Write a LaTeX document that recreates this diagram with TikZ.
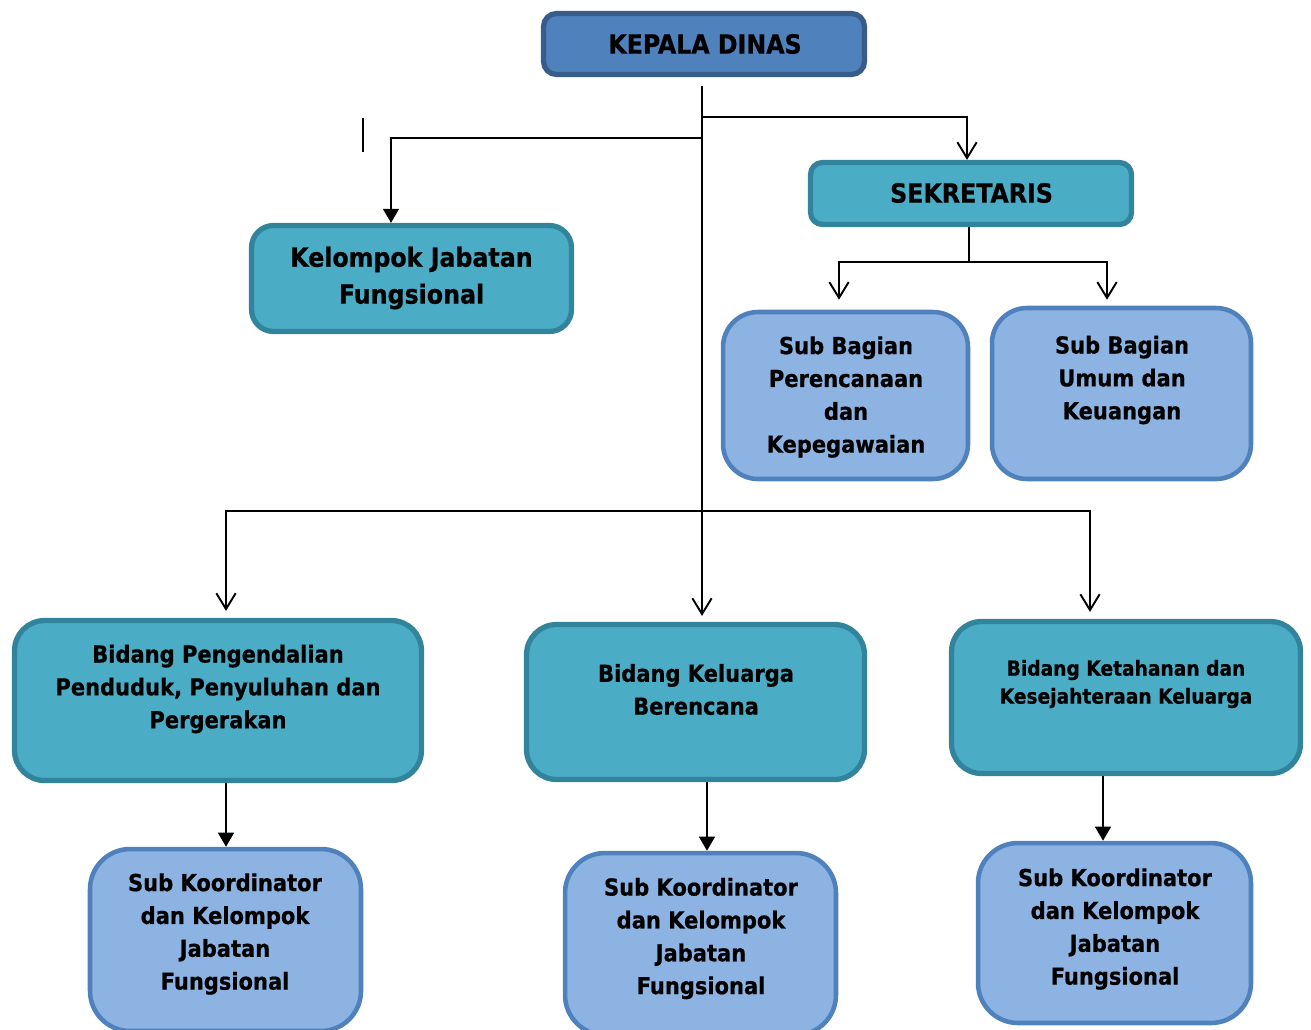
\documentclass[tikz,border=0pt]{standalone}
\usepackage{fontspec}
\newfontfamily\orgfont{DejaVu Sans Condensed}[BoldFeatures={FakeBold=0.7}]
\usetikzlibrary{arrows.meta,positioning}
\definecolor{kepalafill}{HTML}{4F81BD}
\definecolor{kepalaline}{HTML}{385D8A}
\definecolor{tealfill}{HTML}{4BACC6}
\definecolor{tealline}{HTML}{31849B}
\definecolor{bluefill}{HTML}{8DB3E2}
\definecolor{blueline}{HTML}{4F81BD}
\tikzset{
  kepalabox/.style={draw=kepalaline, fill=kepalafill, line width=3pt, rounded corners=0.26cm, inner sep=0pt},
  tealbox/.style={draw=tealline, fill=tealfill, line width=3pt, rounded corners=0.5cm, inner sep=0pt},
  bluebox/.style={draw=blueline, fill=bluefill, line width=2.6pt, rounded corners=0.7cm, inner sep=0pt},
  txtbig/.style={font=\orgfont\bfseries\fontsize{15}{21}\selectfont, align=center, inner sep=0pt},
  txt/.style={font=\orgfont\bfseries\fontsize{13.3}{18.7}\selectfont, align=center, inner sep=0pt},
  txtsmall/.style={font=\orgfont\bfseries\fontsize{11.8}{15.9}\selectfont, align=center, inner sep=0pt},
  plainline/.style={line width=1.1pt},
  openarrow/.style={-{Straight Barb[length=9pt,width=11pt]}, line width=1.1pt},
  fillarrow/.style={-{Triangle[length=8pt,width=9pt]}, line width=1.1pt},
}
\begin{document}
\begin{tikzpicture}[x=0.02cm, y=-0.02cm]
  \useasboundingbox (0,0) rectangle (1311,1029);
  % boxes
  \node[kepalabox, minimum width=6.42cm, minimum height=1.22cm] (kepala) at (704,44) {};
  \node[tealbox, rounded corners=0.44cm, minimum width=6.40cm, minimum height=2.12cm] (kjf) at (411.5,278.5) {};
  \node[tealbox, rounded corners=0.24cm, minimum width=6.42cm, minimum height=1.24cm] (sekretaris) at (971,193.5) {};
  \node[bluebox, minimum width=4.90cm, minimum height=3.34cm] (perencanaan) at (845.5,395.5) {};
  \node[bluebox, minimum width=5.18cm, minimum height=3.42cm] (umum) at (1121.5,393.5) {};
  \node[tealbox, rounded corners=0.6cm, minimum width=8.14cm, minimum height=3.20cm] (bdalduk) at (218,700.5) {};
  \node[tealbox, rounded corners=0.6cm, minimum width=6.76cm, minimum height=3.10cm] (bkb) at (695.5,702) {};
  \node[tealbox, rounded corners=0.6cm, minimum width=6.98cm, minimum height=3.04cm] (bketahanan) at (1126,697.5) {};
  \node[bluebox, rounded corners=0.8cm, minimum width=5.42cm, minimum height=3.64cm] (sk1) at (225.5,940) {};
  \node[bluebox, rounded corners=0.8cm, minimum width=5.42cm, minimum height=3.64cm] (sk2) at (700.5,944) {};
  \node[bluebox, rounded corners=0.8cm, minimum width=5.46cm, minimum height=3.60cm] (sk3) at (1114.5,933) {};
  % texts
  \node[txtbig] (kepalatxt) at (705,44) {KEPALA DINAS};
  \node[txtbig] (kjftxt) at (411.5,278) {Kelompok Jabatan\\Fungsional};
  \node[txtbig] (sekretaristxt) at (971.5,193) {SEKRETARIS};
  \node[txt] (perencanaantxt) at (846,397) {Sub Bagian\\Perencanaan\\dan\\Kepegawaian};
  \node[txt] (umumtxt) at (1122,380) {Sub Bagian\\Umum dan\\Keuangan};
  \node[txt] (bdaldukt) at (218,689) {Bidang Pengendalian\\Penduduk, Penyuluhan dan\\Pergerakan};
  \node[txt] (bkbtxt) at (696,689.5) {Bidang Keluarga\\Berencana};
  \node[txtsmall] (bketahanantxt) at (1126,684) {Bidang Ketahanan dan\\Kesejahteraan Keluarga};
  \node[txt] (sk1txt) at (225,934) {Sub Koordinator\\dan Kelompok\\Jabatan\\Fungsional};
  \node[txt] (sk2txt) at (701,938.5) {Sub Koordinator\\dan Kelompok\\Jabatan\\Fungsional};
  \node[txt] (sk3txt) at (1115,929) {Sub Koordinator\\dan Kelompok\\Jabatan\\Fungsional};
  % junctions
  \coordinate (trunktop) at (702,86);
  \coordinate (jsek) at (702,117);
  \coordinate (jkjf) at (702,138);
  \coordinate (jsub) at (969,262);
  \coordinate (jbid) at (702,511);
  % connectors
  \draw[openarrow, shorten >=0.12cm] (trunktop) -- (trunktop |- bkb.north);
  \draw[openarrow] (jsek) -| (967,0 |- sekretaris.north);
  \draw[fillarrow] (jkjf) -| (391,0 |- kjf.north);
  \draw[plainline] (363,118) -- (363,152);
  \draw[plainline] (jsub |- sekretaris.south) -- (jsub);
  \draw[openarrow, shorten >=0.2cm] (jsub) -| (839,0 |- perencanaan.north);
  \draw[openarrow, shorten >=0.12cm] (jsub) -| (1107,0 |- umum.north);
  \draw[openarrow, shorten >=0.14cm] (jbid) -| (226,0 |- bdalduk.north);
  \draw[openarrow, shorten >=0.14cm] (jbid) -| (1090,0 |- bketahanan.north);
  \draw[fillarrow] (226,0 |- bdalduk.south) -- (226,0 |- sk1.north);
  \draw[fillarrow] (707,0 |- bkb.south) -- (707,0 |- sk2.north);
  \draw[fillarrow] (1103,0 |- bketahanan.south) -- (1103,0 |- sk3.north);
\end{tikzpicture}
\end{document}
